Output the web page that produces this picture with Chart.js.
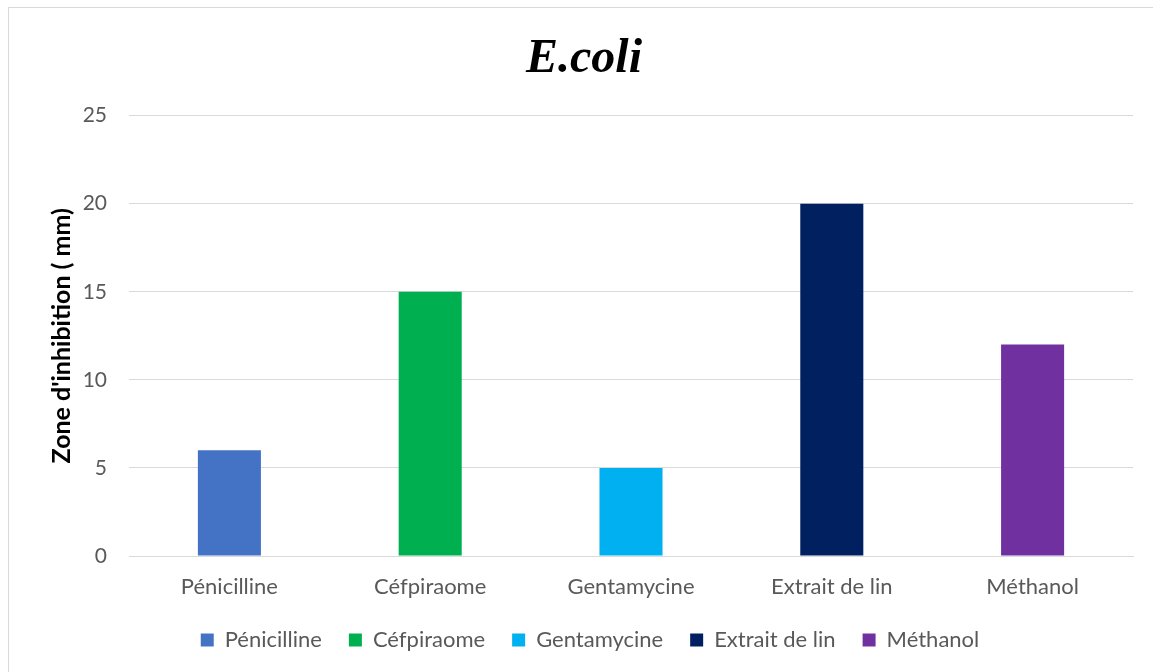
<!DOCTYPE html>
<html>
<head>
<meta charset="utf-8">
<script src="https://cdn.jsdelivr.net/npm/chart.js@4.4.1/dist/chart.umd.min.js"></script>
<style>
  html, body { margin: 0; padding: 0; background: #fff; }
  #frame { position: absolute; left: 8px; top: 7px; width: 1160px; height: 680px; border: 1px solid #d9d9d9; }
  #wrap { position: absolute; left: 0; top: 0; width: 1153px; height: 672px; }
</style>
</head>
<body>
<div id="frame"></div>
<div id="wrap"><canvas id="canvas"></canvas></div>
<script>
const categories = ["Pénicilline", "Céfpiraome", "Gentamycine", "Extrait de lin", "Méthanol"];
const values = [6, 15, 5, 20, 12];
const colors = ["#4472c4", "#00b050", "#00b0f0", "#002060", "#7030a0"];

const grey = "#595959";
const font = "Lato";

const data = {
  labels: categories,
  datasets: [
    {
      label: "Zone d'inhibition",
      data: values,
      backgroundColor: colors,
      borderWidth: 0,
      barPercentage: 0.314,
      categoryPercentage: 1,
    },
  ],
};

const config = {
  type: "bar",
  data: data,
  options: {
    responsive: true,
    maintainAspectRatio: false,
    animation: false,
    layout: { padding: { left: 47, right: 20, top: 0, bottom: 11 } },
    plugins: {
      title: {
        display: true,
        // trailing space nudges the title a little left, like the original
        text: "E.coli\u00a0",
        color: "#000",
        font: { family: "Liberation Serif", size: 48, weight: "bold", style: "italic", lineHeight: 1.2 },
        padding: { top: 31, bottom: 27 },
      },
      legend: {
        position: "bottom",
        labels: {
          boxWidth: 13,
          boxHeight: 13,
          padding: 27,
          color: grey,
          font: { family: font, size: 22 },
          generateLabels: (chart) =>
            categories.map((c, i) => ({
              text: c,
              fillStyle: colors[i],
              strokeStyle: colors[i],
              lineWidth: 0,
              fontColor: grey,
              index: i,
            })),
        },
      },
      tooltip: { enabled: false },
    },
    scales: {
      y: {
        min: 0,
        max: 25,
        ticks: { stepSize: 5, padding: 22, color: grey, font: { family: font, size: 21 } },
        grid: { color: "#d9d9d9", drawTicks: false },
        border: { display: false },
        title: {
          display: true,
          text: "Zone d'inhibition ( mm)",
          color: "#000",
          font: { family: font, size: 25, weight: "bold" },
          padding: 0,
        },
        afterFit: (scale) => { scale.width = 82; },
      },
      x: {
        ticks: { padding: 18, color: grey, font: { family: font, size: 22 } },
        grid: { display: false, drawTicks: false },
        border: { color: "#d9d9d9" },
        afterFit: (scale) => { scale.height = 46; },
      },
    },
  },
};

const canvas = document.getElementById("canvas");
const chart = new Chart(canvas, config);
</script>
</body>
</html>
